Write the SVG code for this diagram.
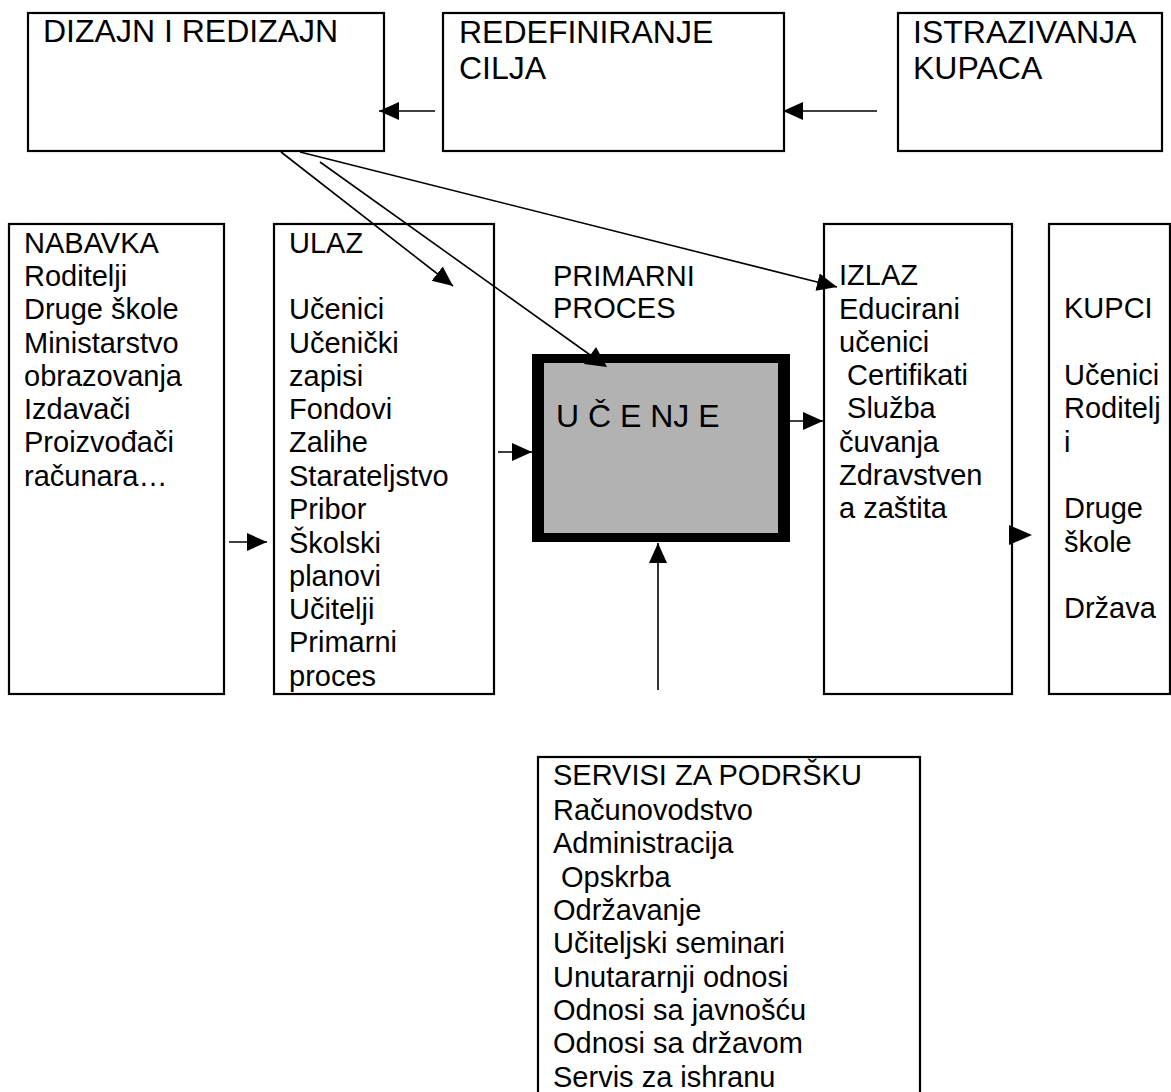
<svg xmlns="http://www.w3.org/2000/svg" width="1171" height="1092" viewBox="0 0 1171 1092">
<defs>
<style>
.box{fill:#fff;stroke:#000;stroke-width:2.2}
.t{font-family:"Liberation Sans",Arial,sans-serif;font-size:29px;fill:#000}
.tt{font-family:"Liberation Sans",Arial,sans-serif;font-size:32px;fill:#000}
.c{stroke:#000;stroke-width:1.6;fill:none}
.ah{fill:#000}
</style>
<marker id="arr" markerUnits="userSpaceOnUse" markerWidth="22" markerHeight="20" refX="20" refY="10" orient="auto">
<path d="M0,1 L20,10 L0,19 z" fill="#000"/>
</marker>
</defs>
<rect width="1171" height="1092" fill="#fff"/>

<g id="dizajn">
<rect class="box" x="28" y="13" width="356" height="138"/>
<text class="tt" x="43" y="42">DIZAJN I REDIZAJN</text>
</g>
<g id="redefiniranje">
<rect class="box" x="443" y="13" width="341" height="138"/>
<text class="tt"><tspan x="459" y="43">REDEFINIRANJE</tspan><tspan x="459" y="79">CILJA</tspan></text>
</g>
<g id="istrazivanja">
<rect class="box" x="898" y="13" width="264" height="138"/>
<text class="tt"><tspan x="913" y="43">ISTRAZIVANJA</tspan><tspan x="913" y="79">KUPACA</tspan></text>
</g>

<g id="nabavka">
<rect class="box" x="9" y="224" width="215" height="470"/>
<text class="t">
<tspan x="24" y="253">NABAVKA</tspan>
<tspan x="24" y="286">Roditelji</tspan>
<tspan x="24" y="319">Druge škole</tspan>
<tspan x="24" y="353">Ministarstvo</tspan>
<tspan x="24" y="386">obrazovanja</tspan>
<tspan x="24" y="419">Izdavači</tspan>
<tspan x="24" y="452">Proizvođači</tspan>
<tspan x="24" y="486">računara…</tspan>
</text>
</g>

<g id="ulaz">
<rect class="box" x="274" y="224" width="220" height="470"/>
<text class="t">
<tspan x="289" y="253">ULAZ</tspan>
<tspan x="289" y="319">Učenici</tspan>
<tspan x="289" y="353">Učenički</tspan>
<tspan x="289" y="386">zapisi</tspan>
<tspan x="289" y="419">Fondovi</tspan>
<tspan x="289" y="452">Zalihe</tspan>
<tspan x="289" y="486">Starateljstvo</tspan>
<tspan x="289" y="519">Pribor</tspan>
<tspan x="289" y="553">Školski</tspan>
<tspan x="289" y="586">planovi</tspan>
<tspan x="289" y="619">Učitelji</tspan>
<tspan x="289" y="652">Primarni</tspan>
<tspan x="289" y="686">proces</tspan>
</text>
</g>

<g id="primarni-proces">
<text class="t"><tspan x="553" y="286">PRIMARNI</tspan><tspan x="553" y="318">PROCES</tspan></text>
</g>

<g id="ucenje">
<rect x="532" y="354" width="258" height="188" fill="#000"/>
<rect x="544" y="363" width="234" height="170" fill="#b2b2b2"/>
<text class="tt" x="556" y="427">U Č E NJ E</text>
</g>

<g id="izlaz">
<rect class="box" x="824" y="224" width="188" height="470"/>
<text class="t">
<tspan x="839" y="285">IZLAZ</tspan>
<tspan x="839" y="319">Educirani</tspan>
<tspan x="839" y="352">učenici</tspan>
<tspan x="839" y="385" xml:space="preserve"> Certifikati</tspan>
<tspan x="839" y="418" xml:space="preserve"> Služba</tspan>
<tspan x="839" y="452">čuvanja</tspan>
<tspan x="839" y="485">Zdravstven</tspan>
<tspan x="839" y="518">a zaštita</tspan>
</text>
</g>

<g id="kupci">
<rect class="box" x="1049" y="224" width="121" height="470"/>
<text class="t">
<tspan x="1064" y="318">KUPCI</tspan>
<tspan x="1064" y="385">Učenici</tspan>
<tspan x="1064" y="418">Roditelj</tspan>
<tspan x="1064" y="452">i</tspan>
<tspan x="1064" y="518">Druge</tspan>
<tspan x="1064" y="552">škole</tspan>
<tspan x="1064" y="618">Država</tspan>
</text>
</g>

<g id="servisi">
<rect class="box" x="538" y="757" width="382" height="400"/>
<text class="t">
<tspan x="553" y="785">SERVISI ZA PODRŠKU</tspan>
<tspan x="553" y="820">Računovodstvo</tspan>
<tspan x="553" y="853">Administracija</tspan>
<tspan x="553" y="887" xml:space="preserve"> Opskrba</tspan>
<tspan x="553" y="920">Održavanje</tspan>
<tspan x="553" y="953">Učiteljski seminari</tspan>
<tspan x="553" y="987">Unutararnji odnosi</tspan>
<tspan x="553" y="1020">Odnosi sa javnošću</tspan>
<tspan x="553" y="1053">Odnosi sa državom</tspan>
<tspan x="553" y="1087">Servis za ishranu</tspan>
</text>
</g>

<g id="connectors">
<line class="c" x1="435" y1="111" x2="379" y2="111" marker-end="url(#arr)"/>
<line class="c" x1="877" y1="111" x2="783" y2="111" marker-end="url(#arr)"/>
<line class="c" x1="229" y1="542" x2="267" y2="542" marker-end="url(#arr)"/>
<line class="c" x1="498" y1="452" x2="532" y2="452" marker-end="url(#arr)"/>
<line class="c" x1="790" y1="421" x2="823" y2="421" marker-end="url(#arr)"/>
<polygon class="ah" points="1009,525 1032,535 1009,545"/>
<line class="c" x1="658" y1="690" x2="658" y2="543" marker-end="url(#arr)"/>
<line class="c" x1="281" y1="152" x2="453" y2="286" marker-end="url(#arr)"/>
<line class="c" x1="320" y1="162" x2="600" y2="362"/>
<polygon class="ah" points="596,347 584,364 607,367"/>
<line class="c" x1="300" y1="152" x2="837" y2="287" marker-end="url(#arr)"/>
</g>
</svg>
